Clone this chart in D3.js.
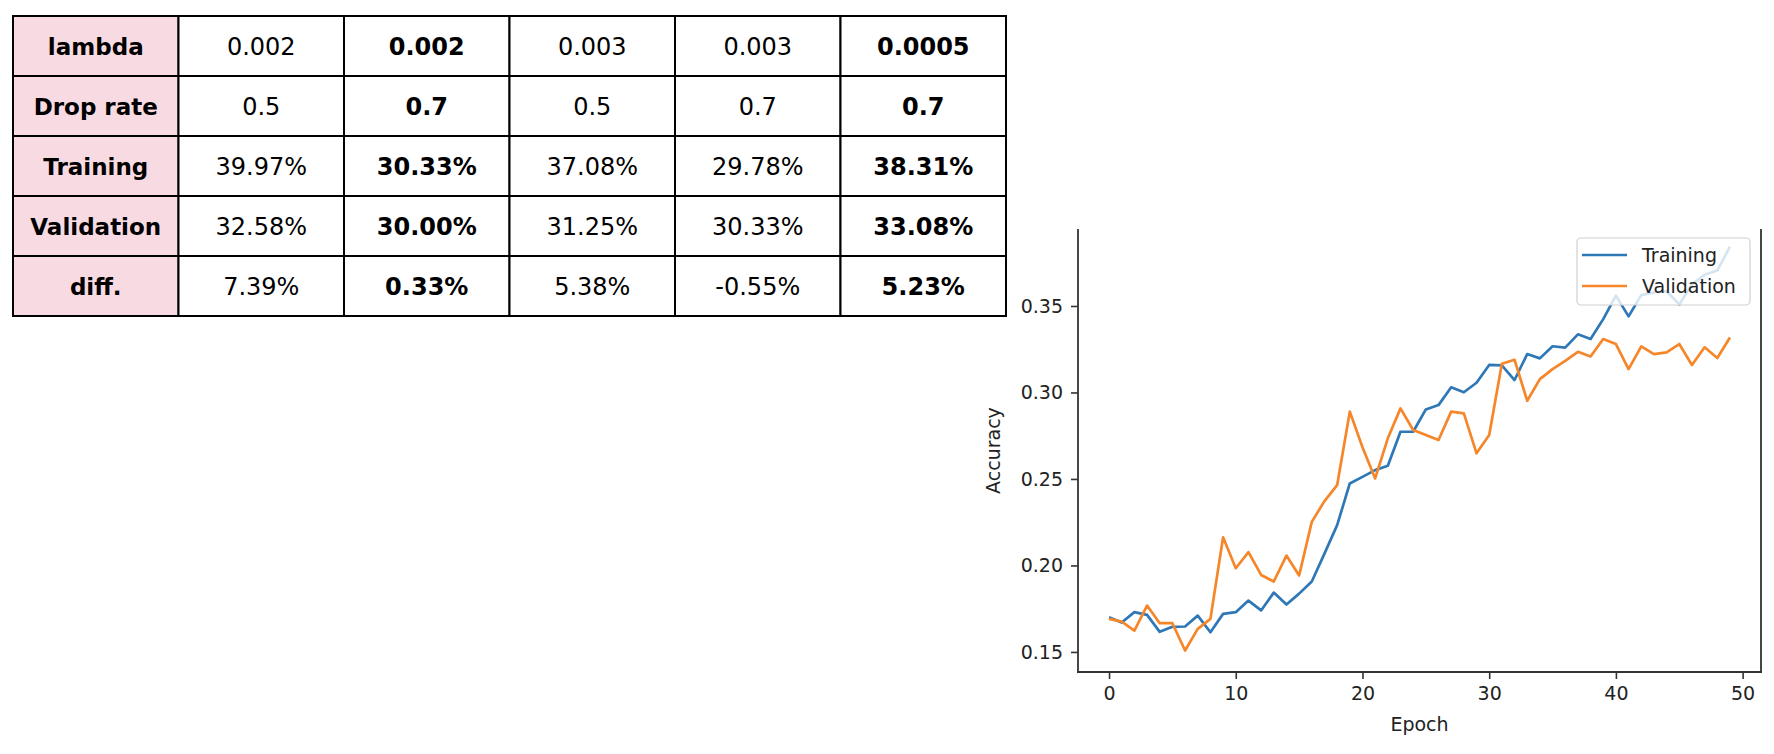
<!DOCTYPE html>
<html>
<head>
<meta charset="utf-8">
<script src="https://cdn.jsdelivr.net/npm/d3@7"></script>
<style>
  html, body { margin: 0; padding: 0; background: #fff; }
  svg { display: block; }
</style>
</head>
<body>
<svg id="chart" width="1774" height="754"></svg>
<script>
// ---------------- data ----------------
const rowLabels = ["lambda", "Drop rate", "Training", "Validation", "diff."];
const lambdaRow = ["0.002", "0.002", "0.003", "0.003", "0.0005"];
const dropRateRow = ["0.5", "0.7", "0.5", "0.7", "0.7"];
const trainingRow = ["39.97%", "30.33%", "37.08%", "29.78%", "38.31%"];
const validationRow = ["32.58%", "30.00%", "31.25%", "30.33%", "33.08%"];
const diffRow = ["7.39%", "0.33%", "5.38%", "-0.55%", "5.23%"];
const boldColumns = [1, 4];

const epochs = d3.range(0, 50);
const trainingAcc = [0.170, 0.167, 0.173, 0.1714, 0.1616, 0.1645, 0.1647, 0.171, 0.1614, 0.172,
  0.173, 0.1797, 0.174, 0.1843, 0.1774, 0.1837, 0.1907, 0.2068, 0.2233, 0.2474,
  0.2512, 0.2551, 0.2576, 0.2773, 0.2773, 0.2902, 0.2927, 0.303, 0.3001, 0.3056,
  0.3159, 0.3157, 0.3072, 0.3222, 0.3197, 0.3267, 0.3259, 0.3336, 0.3309, 0.3424,
  0.356, 0.344, 0.3563, 0.3578, 0.3585, 0.3509, 0.3625, 0.368, 0.3705, 0.3843];
const validationAcc = [0.1691, 0.1675, 0.1623, 0.1768, 0.1666, 0.1666, 0.1508, 0.1633, 0.1691, 0.2163,
  0.1984, 0.2077, 0.1945, 0.1907, 0.2057, 0.1942, 0.2252, 0.2372, 0.2464, 0.2889,
  0.2683, 0.2503, 0.2735, 0.2908, 0.2783, 0.2754, 0.2725, 0.2889, 0.2879, 0.2648,
  0.2754, 0.3166, 0.3189, 0.2952, 0.3077, 0.3135, 0.3183, 0.3235, 0.3208, 0.3309,
  0.328, 0.3135, 0.3266, 0.3222, 0.3232, 0.328, 0.3159, 0.3261, 0.3199, 0.3318];
const xTicks = [0, 10, 20, 30, 40, 50];
const yTicks = [0.15, 0.20, 0.25, 0.30, 0.35];
const seriesNames = ["Training", "Validation"];

// ---------------- table ----------------
const svg = d3.select("#chart");
const tableRows = [lambdaRow, dropRateRow, trainingRow, validationRow, diffRow];
const colX = d3.scaleBand().domain(d3.range(6)).range([13, 1006]);
const rowY = d3.scaleBand().domain(d3.range(5)).range([16, 316]);
const tbl = svg.append("g").attr("class", "table");
const cells = [];
tableRows.forEach((r, i) => {
  cells.push({ r: i, c: 0, text: rowLabels[i], bold: true, head: true });
  r.forEach((v, j) => cells.push({ r: i, c: j + 1, text: v, bold: boldColumns.includes(j), head: false }));
});
tbl.selectAll("rect.cell").data(cells).join("rect")
  .attr("class", "cell")
  .attr("x", d => colX(d.c)).attr("y", d => rowY(d.r))
  .attr("width", colX.bandwidth()).attr("height", rowY.bandwidth())
  .attr("fill", d => d.head ? "#f8dbe2" : "#fff")
  .attr("stroke", "#000").attr("stroke-width", 2);
tbl.selectAll("text").data(cells).join("text")
  .attr("x", d => colX(d.c) + colX.bandwidth() / 2)
  .attr("y", d => rowY(d.r) + rowY.bandwidth() / 2 + 9)
  .attr("text-anchor", "middle")
  .attr("font-family", "DejaVu Sans, sans-serif")
  .attr("font-size", d => d.head ? 23 : 24)
  .attr("font-weight", d => d.bold ? "bold" : "normal")
  .attr("fill", "#000")
  .text(d => d.text);

// ---------------- line chart ----------------
const plotLeft = 1078, plotRight = 1761, plotTop = 229, plotBottom = 672;
const x = d3.scaleLinear().domain([-2.45, 51.45]).range([plotLeft, plotRight]);
const y = d3.scaleLinear().domain([0.1384, 0.3945]).range([plotBottom, plotTop]);
const g = svg.append("g").attr("class", "plot");
const font = "DejaVu Sans, sans-serif";

const line = d3.line().x((d, i) => x(epochs[i])).y(d => y(d));
g.append("path").datum(trainingAcc).attr("d", line)
  .attr("fill", "none").attr("stroke", "#2f78b7").attr("stroke-width", 2.7).attr("stroke-linejoin", "round");
g.append("path").datum(validationAcc).attr("d", line)
  .attr("fill", "none").attr("stroke", "#f5862a").attr("stroke-width", 2.7).attr("stroke-linejoin", "round");

// axes
const xAxis = d3.axisBottom(x).tickValues(xTicks).tickFormat(d3.format("d")).tickSize(7).tickPadding(8);
const yAxis = d3.axisLeft(y).tickValues(yTicks).tickFormat(d3.format(".2f")).tickSize(7).tickPadding(8);
const gx = g.append("g").attr("transform", `translate(0,${plotBottom})`).call(xAxis);
const gy = g.append("g").attr("transform", `translate(${plotLeft},0)`).call(yAxis);
[gx, gy].forEach(a => {
  a.select(".domain").remove();
  a.selectAll(".tick line").attr("stroke", "#333").attr("stroke-width", 1.6);
  a.selectAll(".tick text").attr("font-family", font).attr("font-size", 19).attr("fill", "#222");
});
// spines (left, bottom, right)
g.append("line").attr("x1", plotLeft).attr("x2", plotLeft).attr("y1", plotTop).attr("y2", plotBottom)
  .attr("stroke", "#333").attr("stroke-width", 1.8);
g.append("line").attr("x1", plotRight).attr("x2", plotRight).attr("y1", plotTop).attr("y2", plotBottom)
  .attr("stroke", "#333").attr("stroke-width", 1.8);
g.append("line").attr("x1", plotLeft - 1).attr("x2", plotRight + 1).attr("y1", plotBottom).attr("y2", plotBottom)
  .attr("stroke", "#333").attr("stroke-width", 1.8);

// axis labels
g.append("text").attr("x", (plotLeft + plotRight) / 2).attr("y", 731)
  .attr("text-anchor", "middle").attr("font-family", font).attr("font-size", 19).attr("fill", "#222")
  .text("Epoch");
g.append("text").attr("transform", `translate(1000,${(plotTop + plotBottom) / 2}) rotate(-90)`)
  .attr("text-anchor", "middle").attr("font-family", font).attr("font-size", 19).attr("fill", "#222")
  .text("Accuracy");

// legend
const lg = g.append("g").attr("class", "legend");
lg.append("rect").attr("x", 1577).attr("y", 238).attr("width", 173).attr("height", 67)
  .attr("rx", 4).attr("fill", "rgba(255,255,255,0.8)").attr("stroke", "#d0d0d0").attr("stroke-width", 1.2);
const legColors = ["#2f78b7", "#f5862a"];
seriesNames.forEach((n, i) => {
  const ly = 255 + i * 31;
  lg.append("line").attr("x1", 1582).attr("x2", 1627).attr("y1", ly).attr("y2", ly)
    .attr("stroke", legColors[i]).attr("stroke-width", 2.7);
  lg.append("text").attr("x", 1642).attr("y", ly + 7).attr("font-family", font).attr("font-size", 19)
    .attr("fill", "#222").text(n);
});
</script>
</body>
</html>
